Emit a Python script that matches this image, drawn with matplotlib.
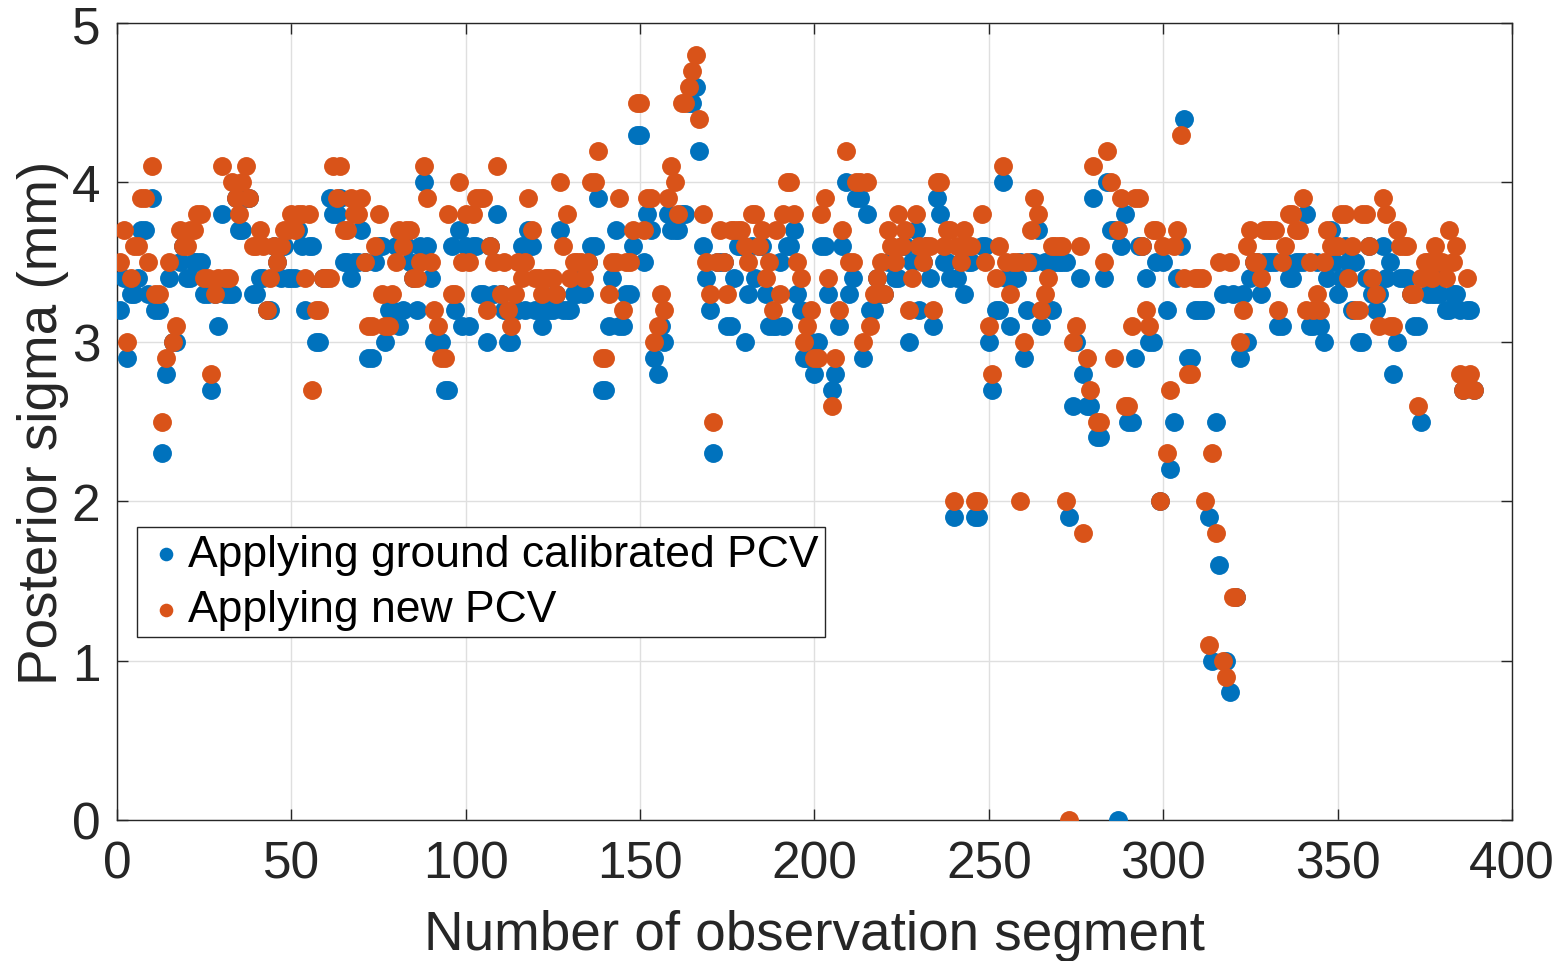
import numpy as np
import matplotlib
matplotlib.use("Agg")
import matplotlib.pyplot as plt

# posterior sigma (mm) per observation segment
sigma_ground = [
    3.2, 3.4, 2.9, 3.3, 3.3, 3.4, 3.7, 3.7, 3.3, 3.9, 3.2, 3.2, 2.3, 2.8, 3.4, 3.0, 3.0, 3.5, 3.6, 3.4,
    3.4, 3.5, 3.5, 3.5, 3.3, 3.3, 2.7, 3.3, 3.1, 3.8, 3.3, 3.3, 3.3, 3.9, 3.7, 3.7, 3.9, 3.9, 3.3, 3.3,
    3.4, 3.4, 3.2, 3.2, 3.6, 3.5, 3.4, 3.6, 3.4, 3.4,
    3.4, 3.7, 3.6, 3.2, 3.6, 3.6, 3.0, 3.0, 3.4, 3.4, 3.9, 3.8, 3.8, 3.9, 3.5, 3.5, 3.4, 3.5, 3.5, 3.7,
    3.5, 2.9, 2.9, 3.5, 3.6, 3.6, 3.0, 3.2, 3.2, 3.6, 3.1, 3.2, 3.6, 3.5, 3.4, 3.2, 3.6, 4.0, 3.6, 3.4,
    3.0, 3.0, 3.0, 2.7, 2.7, 3.6, 3.2, 3.7, 3.1, 3.6,
    3.1, 3.6, 3.6, 3.3, 3.3, 3.0, 3.6, 3.3, 3.8, 3.3, 3.2, 3.0, 3.0, 3.2, 3.2, 3.6, 3.2, 3.7, 3.6, 3.2,
    3.2, 3.1, 3.2, 3.2, 3.2, 3.3, 3.7, 3.2, 3.2, 3.2, 3.3, 3.3, 3.4, 3.3, 3.5, 3.6, 3.6, 3.9, 2.7, 2.7,
    3.1, 3.4, 3.7, 3.1, 3.1, 3.3, 3.3, 3.6, 4.3, 4.3,
    3.5, 3.8, 3.7, 2.9, 2.8, 3.1, 3.0, 3.8, 3.7, 3.7, 3.7, 3.8, 3.8, 4.5, 4.5, 4.6, 4.2, 3.6, 3.4, 3.2,
    2.3, 3.5, 3.5, 3.5, 3.1, 3.1, 3.4, 3.6, 3.6, 3.0, 3.3, 3.6, 3.4, 3.6, 3.6, 3.3, 3.1, 3.1, 3.1, 3.5,
    3.1, 3.6, 3.6, 3.7, 3.3, 3.2, 2.9, 2.9, 3.0, 2.8,
    3.0, 3.6, 3.6, 3.3, 2.7, 2.8, 3.1, 3.6, 4.0, 3.3, 3.4, 3.9, 3.9, 2.9, 3.8, 3.2, 3.2, 3.4, 3.3, 3.3,
    3.5, 3.5, 3.4, 3.4, 3.6, 3.6, 3.0, 3.5, 3.7, 3.2, 3.5, 3.6, 3.4, 3.1, 3.9, 3.8, 3.5, 3.5, 3.4, 1.9,
    3.4, 3.5, 3.3, 3.5, 3.5, 1.9, 1.9, 3.6, 3.6, 3.0,
    2.7, 3.2, 3.2, 4.0, 3.4, 3.1, 3.4, 3.4, 3.5, 2.9, 3.2, 3.5, 3.5, 3.7, 3.1, 3.5, 3.5, 3.2, 3.5, 3.5,
    3.5, 3.5, 1.9, 2.6, 3.0, 3.4, 2.8, 2.6, 2.6, 3.9, 2.4, 2.4, 3.4, 4.0, 3.7, 3.7, 0.0, 3.6, 3.8, 2.5,
    2.5, 2.9, 3.6, 3.6, 3.4, 3.0, 3.0, 3.5, 2.0, 3.5,
    3.2, 2.2, 2.5, 3.4, 3.6, 4.4, 2.9, 2.9, 3.2, 3.2, 3.2, 3.2, 1.9, 1.0, 2.5, 1.6, 3.3, 1.0, 0.8, 3.3,
    1.4, 2.9, 3.3, 3.0, 3.4, 3.5, 3.5, 3.3, 3.5, 3.5, 3.5, 3.5, 3.1, 3.1, 3.5, 3.4, 3.4, 3.5, 3.5, 3.5,
    3.8, 3.1, 3.1, 3.5, 3.1, 3.0, 3.4, 3.7, 3.5, 3.3,
    3.4, 3.6, 3.5, 3.2, 3.5, 3.0, 3.0, 3.4, 3.6, 3.3, 3.2, 3.3, 3.6, 3.4, 3.5, 2.8, 3.0, 3.4, 3.4, 3.4,
    3.3, 3.1, 3.1, 2.5, 3.4, 3.3, 3.3, 3.3, 3.3, 3.4, 3.2, 3.2, 3.3, 3.3, 3.2, 2.7, 3.2, 3.2, 2.7,
]

sigma_new = [
    3.5, 3.7, 3.0, 3.4, 3.6, 3.6, 3.9, 3.9, 3.5, 4.1, 3.3, 3.3, 2.5, 2.9, 3.5, 3.0, 3.1, 3.7, 3.6, 3.6,
    3.7, 3.7, 3.8, 3.8, 3.4, 3.4, 2.8, 3.3, 3.4, 4.1, 3.4, 3.4, 4.0, 3.9, 3.8, 4.0, 4.1, 3.9, 3.6, 3.6,
    3.7, 3.6, 3.2, 3.4, 3.6, 3.5, 3.6, 3.7, 3.7, 3.8,
    3.7, 3.8, 3.8, 3.4, 3.8, 2.7, 3.2, 3.2, 3.4, 3.4, 3.4, 4.1, 3.9, 4.1, 3.7, 3.7, 3.9, 3.8, 3.8, 3.9,
    3.5, 3.1, 3.1, 3.6, 3.8, 3.3, 3.1, 3.1, 3.3, 3.5, 3.7, 3.6, 3.7, 3.7, 3.4, 3.4, 3.5, 4.1, 3.9, 3.5,
    3.2, 3.1, 2.9, 2.9, 3.8, 3.3, 3.3, 4.0, 3.5, 3.8,
    3.5, 3.8, 3.9, 3.9, 3.9, 3.2, 3.6, 3.5, 4.1, 3.3, 3.5, 3.2, 3.1, 3.3, 3.5, 3.4, 3.5, 3.9, 3.7, 3.4,
    3.4, 3.3, 3.4, 3.4, 3.4, 3.3, 4.0, 3.6, 3.8, 3.4, 3.5, 3.5, 3.5, 3.4, 3.5, 4.0, 4.0, 4.2, 2.9, 2.9,
    3.3, 3.5, 3.5, 3.9, 3.2, 3.5, 3.5, 3.7, 4.5, 4.5,
    3.7, 3.9, 3.9, 3.0, 3.1, 3.3, 3.2, 3.9, 4.1, 4.0, 3.8, 4.5, 4.5, 4.6, 4.7, 4.8, 4.4, 3.8, 3.5, 3.3,
    2.5, 3.5, 3.7, 3.5, 3.3, 3.7, 3.7, 3.7, 3.7, 3.6, 3.5, 3.8, 3.8, 3.6, 3.7, 3.4, 3.5, 3.2, 3.7, 3.3,
    3.8, 4.0, 4.0, 3.8, 3.5, 3.4, 3.0, 3.1, 3.2, 2.9,
    2.9, 3.8, 3.9, 3.4, 2.6, 2.9, 3.2, 3.7, 4.2, 3.5, 3.5, 4.0, 4.0, 3.0, 4.0, 3.1, 3.3, 3.4, 3.5, 3.3,
    3.7, 3.6, 3.5, 3.8, 3.6, 3.7, 3.2, 3.4, 3.8, 3.6, 3.5, 3.6, 3.6, 3.2, 4.0, 4.0, 3.6, 3.7, 3.7, 2.0,
    3.6, 3.5, 3.7, 3.6, 3.6, 2.0, 2.0, 3.8, 3.5, 3.1,
    2.8, 3.4, 3.6, 4.1, 3.5, 3.3, 3.5, 3.5, 2.0, 3.0, 3.5, 3.7, 3.9, 3.8, 3.2, 3.3, 3.4, 3.6, 3.6, 3.6,
    3.6, 2.0, 0.0, 3.0, 3.1, 3.6, 1.8, 2.9, 2.7, 4.1, 2.5, 2.5, 3.5, 4.2, 4.0, 2.9, 3.7, 3.9, 2.6, 2.6,
    3.1, 3.9, 3.9, 3.6, 3.2, 3.1, 3.7, 3.7, 2.0, 3.6,
    2.3, 2.7, 3.6, 3.7, 4.3, 3.4, 2.8, 2.8, 3.4, 3.4, 3.4, 2.0, 1.1, 2.3, 1.8, 3.5, 1.0, 0.9, 3.5, 1.4,
    1.4, 3.0, 3.2, 3.6, 3.7, 3.5, 3.5, 3.4, 3.7, 3.7, 3.7, 3.7, 3.2, 3.5, 3.6, 3.8, 3.8, 3.7, 3.7, 3.9,
    3.2, 3.5, 3.2, 3.3, 3.2, 3.5, 3.7, 3.6, 3.6, 3.6,
    3.8, 3.8, 3.4, 3.6, 3.2, 3.2, 3.8, 3.8, 3.6, 3.4, 3.3, 3.1, 3.9, 3.8, 3.1, 3.1, 3.7, 3.6, 3.6, 3.6,
    3.3, 3.3, 2.6, 3.4, 3.5, 3.5, 3.4, 3.6, 3.5, 3.5, 3.4, 3.7, 3.5, 3.6, 2.8, 2.7, 3.4, 2.8, 2.7,
]

segments = np.arange(1, len(sigma_ground) + 1)
labels = ["Applying ground calibrated PCV", "Applying new PCV"]
colors = ["#0072BD", "#D95319"]

plt.rcParams["font.family"] = ["Liberation Sans", "DejaVu Sans"]

fig = plt.figure(figsize=(15.57, 9.62), dpi=100)
ax = fig.add_axes([0.0751, 0.1466, 0.8960, 0.8284])

ax.scatter(segments, sigma_ground, s=185, c=colors[0], label=labels[0], linewidths=0, zorder=3)
ax.scatter(segments, sigma_new, s=185, c=colors[1], label=labels[1], linewidths=0, zorder=4)

ax.set_xlim(0, 400)
ax.set_ylim(0, 5)
ax.set_xticks(np.arange(0, 401, 50))
ax.set_yticks(np.arange(0, 6, 1))
ax.grid(True, color="#dfdfdf", linewidth=1.0, zorder=0)
ax.set_axisbelow(True)

ax.tick_params(direction="in", length=8, width=1, colors="#262626", labelsize=37,
               top=True, right=True)
ax.tick_params(axis="x", pad=14)
ax.tick_params(axis="y", pad=12)
for sp in ax.spines.values():
    sp.set_color("#262626")
    sp.set_linewidth(1.0)

ax.set_xlabel("Number of observation segment", fontsize=39.5, color="#262626", labelpad=15)
ax.set_ylabel("Posterior sigma (mm)", fontsize=39.5, color="#262626", labelpad=2)

leg = ax.legend(loc="lower left", bbox_to_anchor=(0.0143, 0.2296), fontsize=32,
                markerscale=0.72, handletextpad=0.0, borderpad=0.15, labelspacing=0.33,
                fancybox=False, framealpha=1, edgecolor="#262626", handlelength=1.0,
                borderaxespad=0)
leg.get_frame().set_linewidth(1.0)

fig.savefig("out.png", dpi=100)
